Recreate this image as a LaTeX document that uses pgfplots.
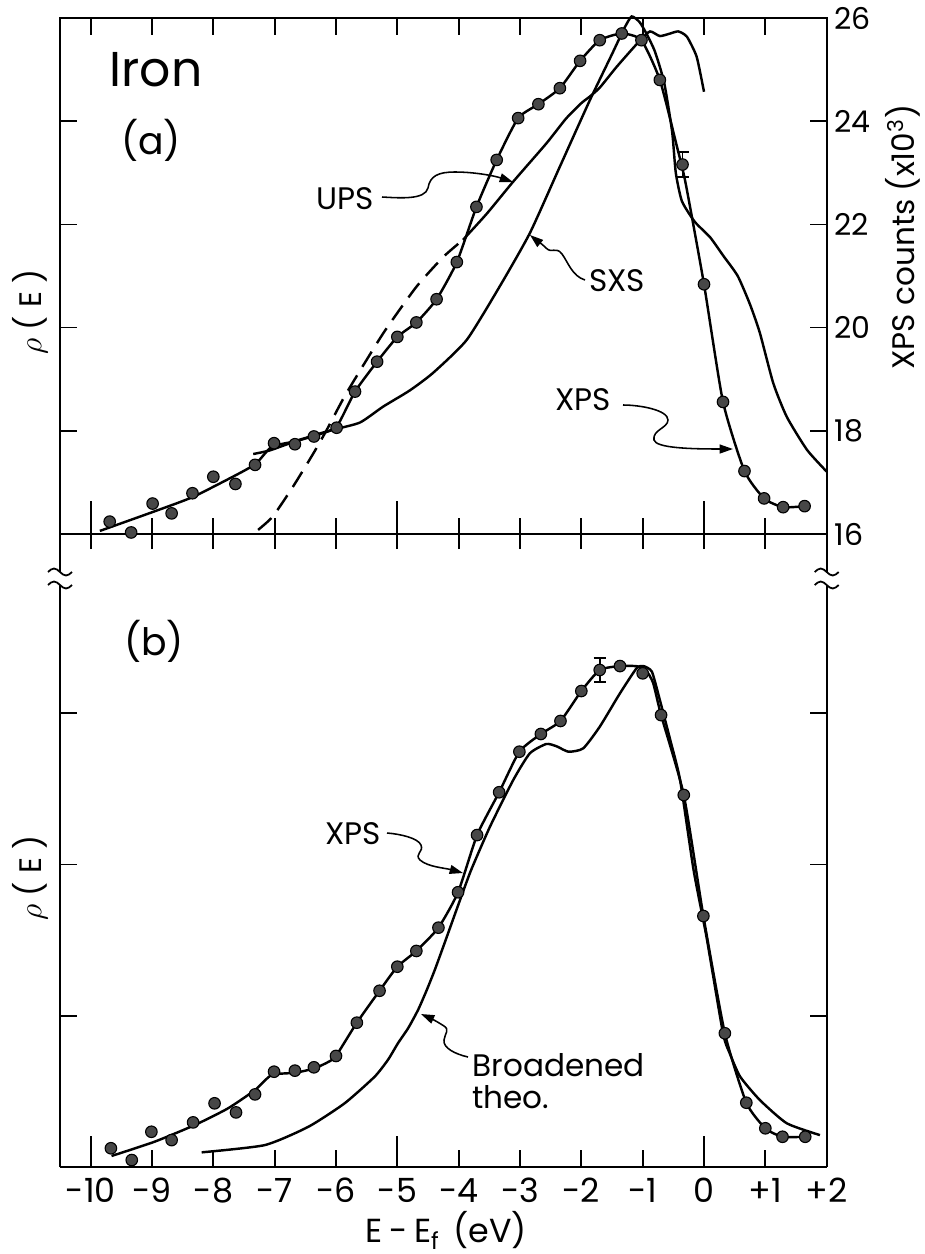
\documentclass[border=0pt]{standalone}
\usepackage{fontspec}
\setmainfont{Poppins}
\usepackage{pgfplots}
\usepackage{pgfplotstable}
\pgfplotsset{compat=1.18}
\usetikzlibrary{arrows.meta}

% ---------- panel (a) ----------
\pgfplotstableread{
x y
-9.69 16.24
-9.34 16.03
-8.99 16.59
-8.68 16.40
-8.34 16.79
-8.00 17.11
-7.64 16.97
-7.32 17.34
-7.01 17.76
-6.67 17.74
-6.36 17.89
-5.99 18.06
-5.69 18.76
-5.33 19.34
-5.00 19.82
-4.69 20.10
-4.36 20.55
-4.03 21.27
-3.71 22.34
-3.38 23.25
-3.03 24.06
-2.70 24.33
-2.35 24.64
-2.02 25.17
-1.70 25.57
-1.34 25.70
-1.02 25.57
-0.72 24.80
0.00 20.84
0.31 18.56
0.66 17.22
0.98 16.69
1.29 16.52
1.64 16.54
}\topdots

\pgfplotstableread{
x y
-9.85 16.06
-8.98 16.43
-8.33 16.72
-7.57 17.18
-7.30 17.37
-7.05 17.69
-6.70 17.79
-6.26 17.95
-5.99 18.08
-5.69 18.76
-5.33 19.34
-5.00 19.82
-4.69 20.10
-4.36 20.55
-4.03 21.27
-3.71 22.34
-3.38 23.25
-3.03 24.06
-2.70 24.33
-2.35 24.64
-2.02 25.17
-1.70 25.57
-1.34 25.70
-1.02 25.57
-0.72 24.80
-0.45 23.55
-0.30 22.80
0.00 20.84
0.31 18.56
0.66 17.22
0.98 16.69
1.29 16.52
1.64 16.54
}\topxpsline

\pgfplotstableread{
x y
-7.35 17.55
-7.08 17.62
-6.70 17.78
-6.30 17.92
-6.05 18.02
-5.61 18.16
-5.23 18.47
-4.80 18.78
-4.42 19.12
-3.87 19.76
-3.33 20.80
-2.84 21.83
-2.35 23.12
-1.86 24.41
-1.50 25.30
-1.30 25.80
-1.18 26.03
-1.05 25.92
-0.94 25.70
-0.80 25.35
-0.65 24.75
-0.52 23.80
-0.46 23.00
-0.36 22.45
-0.15 22.05
0.10 21.75
0.31 21.40
0.55 21.00
0.75 20.45
0.91 19.90
1.13 18.92
1.35 18.27
1.68 17.63
2.00 17.21
}\topsxs

\pgfplotstableread{
x y
-7.27 16.08
-7.03 16.34
-6.70 16.92
-6.37 17.56
-6.15 18.02
-5.83 18.73
-5.23 19.89
-4.69 20.79
-4.25 21.37
-3.93 21.70
}\topupsdash

\pgfplotstableread{
x y
-3.93 21.70
-3.54 22.21
-3.11 22.83
-2.57 23.57
-2.25 24.05
-2.00 24.35
-1.86 24.48
-1.70 24.65
-1.42 25.06
-1.04 25.57
-0.88 25.74
-0.72 25.65
-0.55 25.70
-0.42 25.74
-0.28 25.64
-0.12 25.25
0.00 24.57
}\topups

% ---------- panel (b) ----------
\pgfplotstableread{
x y
-9.67 0.124
-9.33 0.046
-9.01 0.233
-8.68 0.178
-8.33 0.295
-7.98 0.421
-7.63 0.361
-7.32 0.480
-7.01 0.630
-6.67 0.637
-6.36 0.659
-6.00 0.734
-5.66 0.954
-5.29 1.165
-5.00 1.324
-4.69 1.428
-4.33 1.582
-4.01 1.816
-3.70 2.194
-3.34 2.477
-3.01 2.745
-2.66 2.862
-2.34 2.948
-2.00 3.146
-1.37 3.311
-1.00 3.263
-0.70 2.987
-0.33 2.459
-0.01 1.659
0.34 0.884
0.69 0.425
1.00 0.256
1.28 0.200
1.65 0.200
}\botdots

\pgfplotstableread{
x y
-9.66 0.073
-8.96 0.167
-8.30 0.278
-7.76 0.388
-7.32 0.509
-7.05 0.608
-6.67 0.623
-6.35 0.652
-6.10 0.700
-6.00 0.734
-5.66 0.954
-5.29 1.165
-5.00 1.324
-4.69 1.428
-4.33 1.582
-4.01 1.816
-3.70 2.194
-3.34 2.477
-3.01 2.745
-2.66 2.862
-2.34 2.948
-2.00 3.146
-1.70 3.285
-1.37 3.311
-1.10 3.310
-0.95 3.285
-0.83 3.200
-0.70 2.987
-0.33 2.459
-0.01 1.659
0.34 0.884
0.69 0.425
1.00 0.256
1.28 0.200
1.65 0.200
}\botxpsline

\pgfplotstableread{
x y
-8.19 0.097
-7.16 0.145
-6.45 0.266
-5.86 0.421
-5.37 0.597
-5.15 0.710
-4.99 0.818
-4.82 0.920
-4.66 1.040
-4.52 1.170
-4.39 1.302
-4.23 1.480
-4.00 1.740
-3.80 1.960
-3.49 2.249
-3.11 2.558
-2.84 2.734
-2.57 2.796
-2.40 2.780
-2.21 2.745
-1.97 2.767
-1.70 2.910
-1.37 3.131
-1.10 3.296
-0.99 3.311
-0.85 3.274
-0.72 3.087
-0.55 2.822
-0.39 2.558
-0.17 1.963
0.04 1.522
0.31 0.884
0.42 0.751
0.59 0.597
0.91 0.443
1.35 0.289
1.89 0.211
}\bottheo

\pgfplotsset{
  dotstyle/.style={only marks, mark=*, mark size=2.6pt,
    mark options={fill=black!72, draw=black, line width=0.5pt}},
  curve/.style={black, line width=1.1pt, smooth, tension=0.35, no markers},
}

\begin{document}
\begin{tikzpicture}

% ===== top axis (a) =====
\begin{axis}[
  at={(27pt,-240.3pt)}, anchor=south west,
  width=345pt, height=232.2pt, scale only axis,
  xmin=-10.5, xmax=2, ymin=16, ymax=26,
  xtick={-10,...,2}, xticklabels={}, xtick pos=right,
  ytick={16,18,20,22,24,26}, yticklabels={16,18,20,22,24,26},
  yticklabel pos=right, ytick pos=both,
  tick align=inside, major tick length=7.5pt,
  tick style={black, line width=0.8pt},
  axis line style={line width=0.9pt},
  yticklabel style={font=\fontsize{13.5}{14}\selectfont},
  clip=false,
]
\addplot[curve] table {\topxpsline};
\addplot[curve] table {\topsxs};
\addplot[curve] table {\topups};
\addplot[curve, dash pattern=on 8pt off 4.5pt] table {\topupsdash};
\addplot[dotstyle] table {\topdots};
\addplot[dotstyle, error bars/.cd, y dir=both, y explicit,
  error bar style={line width=0.8pt, black},
  error mark options={rotate=90, mark size=2.7pt, line width=0.8pt, black}]
  coordinates {(-0.35,23.16) +- (0,0.24)};
\end{axis}

% ===== bottom axis (b) =====
\begin{axis}[
  at={(27pt,-525.15pt)}, anchor=south west,
  width=345pt, height=261.9pt, scale only axis,
  xmin=-10.5, xmax=2, ymin=0, ymax=3.8467,
  axis x line=bottom, axis y line=box,
  axis line style={-, line width=0.9pt},
  xtick={-10,...,2},
  xticklabels={-10,-9,-8,-7,-6,-5,-4,-3,-2,-1,0,+1,+2},
  ytick={1,2,3}, yticklabels={},
  xtick align=inside, ytick align=inside, major tick length=7.5pt,
  tick style={black, line width=0.8pt},
  extra x ticks={-10,-5,0}, extra x tick labels={},
  extra x tick style={major tick length=14pt, xtick align=inside},
  xticklabel style={font=\fontsize{15}{16}\selectfont, yshift=-1.5pt},
  clip=false,
]
\addplot[curve] table {\botxpsline};
\addplot[curve] table {\bottheo};
\addplot[dotstyle] table {\botdots};
\addplot[dotstyle, error bars/.cd, y dir=both, y explicit,
  error bar style={line width=0.8pt, black},
  error mark options={rotate=90, mark size=2.7pt, line width=0.8pt, black}]
  coordinates {(-1.70,3.285) +- (0,0.08)};
\end{axis}

% ===== annotations in image-pixel coordinates =====
\begin{scope}[x=0.45pt, y=-0.45pt]
  % crossing ticks on the y=16 line of panel (a)
  \foreach \i in {0,...,12}{
    \draw[line width=0.8pt] (90.67+61.336*\i,549) -- (90.67+61.336*\i,518);
  }
  \foreach \i in {0,5,10}{
    \draw[line width=0.8pt] (90.67+61.336*\i,534) -- (90.67+61.336*\i,501);
  }
  % frame continuation and break marks
  \draw[line width=0.9pt] (60,534) -- (60,572);
  \draw[line width=0.9pt] (826.7,534) -- (826.7,572);
  \foreach \bx in {60,826.7}{
    \foreach \by in {572,585}{
      \draw[line width=0.8pt] (\bx-12,\by) sin (\bx-6,\by-3.5) cos (\bx,\by) sin (\bx+6,\by+3.5) cos (\bx+12,\by);
    }
  }
  % texts
  \node[font=\fontsize{22}{24}\selectfont] at (156,70) {Iron};
  \node[font=\fontsize{17}{19}\selectfont] at (151,140) {(a)};
  \node[font=\fontsize{17}{19}\selectfont] at (154,641) {(b)};
  \node[font=\fontsize{14}{15}\selectfont] at (345,199) {UPS};
  \node[font=\fontsize{14}{15}\selectfont] at (617,281) {SXS};
  \node[font=\fontsize{14}{15}\selectfont] at (583,400) {XPS};
  \node[font=\fontsize{14}{15}\selectfont] at (353,834) {XPS};
  \node[font=\fontsize{14}{14.5}\selectfont, anchor=west, align=left, inner sep=0pt] at (472,1081) {Broadened\\theo.};
  \node[rotate=90, font=\fontsize{14}{15}\selectfont] at (30,312) {$\rho$ ( E )};
  \node[rotate=90, font=\fontsize{14}{15}\selectfont] at (30,878) {$\rho$ ( E )};
  \node[rotate=90, font=\fontsize{14}{15}\selectfont] at (903,237) {XPS counts (x10\textsuperscript{3})};
  \node[font=\fontsize{15}{16}\selectfont, inner sep=0pt] at (446,1230) {E\hspace{3pt}-\hspace{3pt}E\smash{\textsubscript{f}}\hspace{6pt}(eV)};
  % leaders
  \draw[line width=0.7pt, -{Triangle[length=6pt,width=4pt]}]
    (382,197) .. controls (400,198) and (425,200) .. (428,188)
    .. controls (430,176) and (438,172) .. (455,172)
    .. controls (475,172) and (495,176) .. (513,182);
  \draw[line width=0.7pt, -{Triangle[length=6pt,width=4pt]}]
    (585,280) .. controls (572,276) and (568,262) .. (562,254)
    .. controls (556,246) and (552,254) .. (546,248)
    .. controls (540,242) and (536,240) .. (530,235);
  \draw[line width=0.7pt, -{Triangle[length=6pt,width=4pt]}]
    (623,405) .. controls (640,405) and (668,410) .. (668,420)
    .. controls (668,428) and (652,430) .. (654,440)
    .. controls (656,448) and (690,449) .. (733,449);
  \draw[line width=0.7pt, -{Triangle[length=6pt,width=4pt]}]
    (387,833) .. controls (400,834) and (418,838) .. (421,845)
    .. controls (424,852) and (414,854) .. (420,860)
    .. controls (428,867) and (445,868) .. (463,873);
  \draw[line width=0.7pt, -{Triangle[length=6pt,width=4pt]}]
    (468,1057) .. controls (455,1054) and (443,1048) .. (444,1040)
    .. controls (445,1033) and (450,1030) .. (444,1026)
    .. controls (438,1022) and (430,1018) .. (421,1014);
  \pgfresetboundingbox
  \path (0,0) rectangle (925,1254);
\end{scope}
\end{tikzpicture}
\end{document}
